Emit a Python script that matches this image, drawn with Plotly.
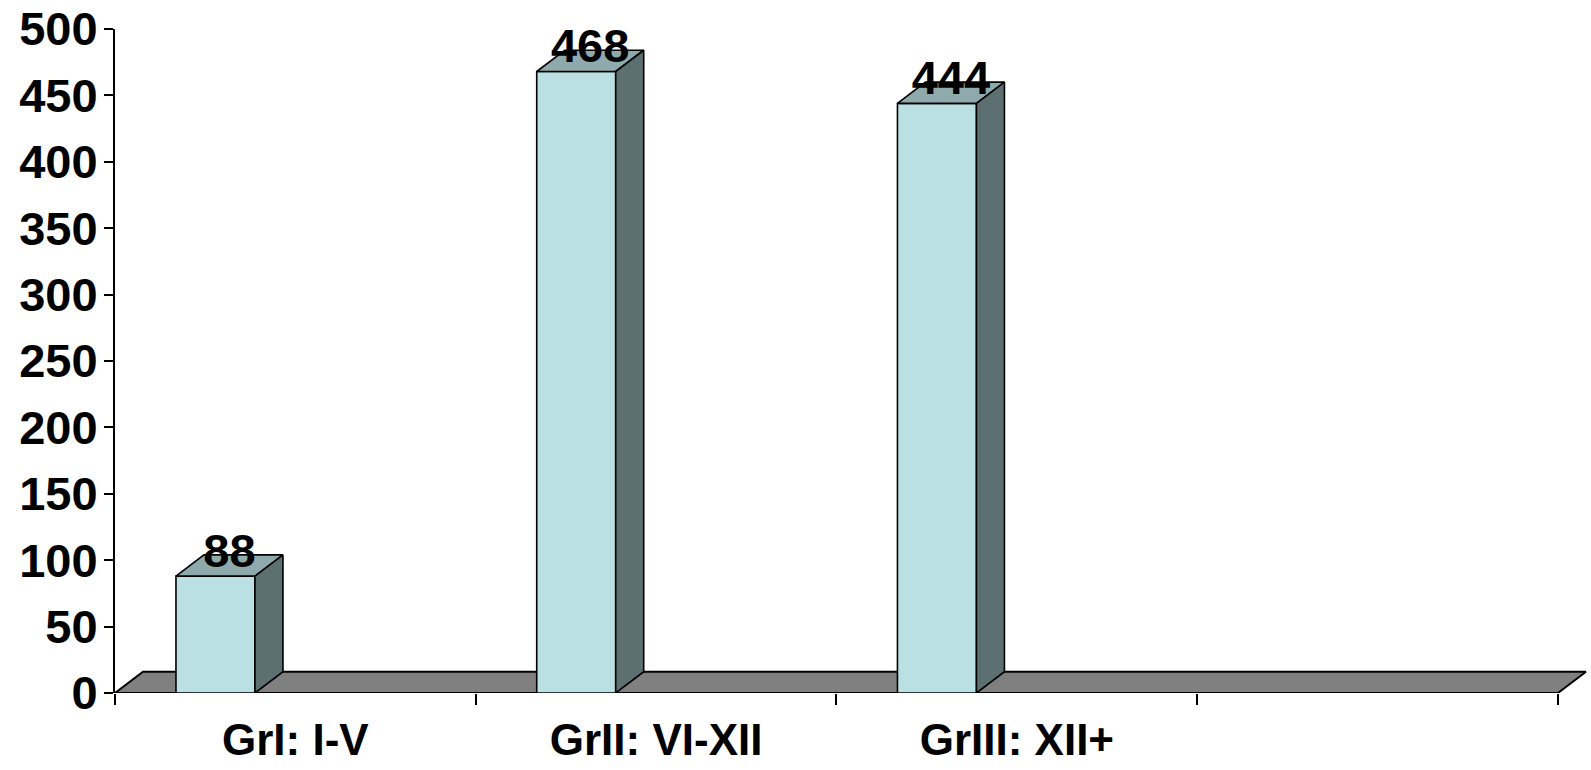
import plotly.graph_objects as go

# Chart data
categories = ["GrI: I-V", "GrII: VI-XII", "GrIII: XII+", ""]
values = [88, 468, 444]
y_ticks = [0, 50, 100, 150, 200, 250, 300, 350, 400, 450, 500]

# Styling for the pseudo-3D columns
FRONT = "#BBE0E3"
TOP = "#8FAAAD"
SIDE = "#5C6F71"
FLOOR = "#808080"
EDGE = dict(color="black", width=1.6)
DX = 0.0776      # depth offset along the category axis
DY = 16.0        # depth offset along the value axis
BAR_L, BAR_R = -0.331, -0.112   # front face extent relative to category centre
FONT = "Liberation Sans, Arial, sans-serif"

fig = go.Figure()

# Floor of the 3D plot
n = len(categories)
x0, x1 = -0.5, n - 0.5
fig.add_trace(go.Scatter(
    x=[x0, x1, x1 + DX, x0 + DX, x0], y=[0, 0, DY, DY, 0],
    fill="toself", fillcolor=FLOOR, mode="lines", line=dict(color="black", width=2),
    hoverinfo="skip", showlegend=False, xaxis="x", yaxis="y"))

# Columns: front, top and side faces
for i, v in enumerate(values):
    l, r = i + BAR_L, i + BAR_R
    faces = [
        ([l, r, r, l, l], [0, 0, v, v, 0], FRONT),
        ([l, r, r + DX, l + DX, l], [v, v, v + DY, v + DY, v], TOP),
        ([r, r + DX, r + DX, r, r], [0, DY, v + DY, v, 0], SIDE),
    ]
    for xs, ys, col in faces:
        fig.add_trace(go.Scatter(
            x=xs, y=ys, fill="toself", fillcolor=col, mode="lines", line=EDGE,
            hoverinfo="skip", showlegend=False))

# Value labels above each column
fig.add_trace(go.Scatter(
    x=[i + (BAR_L + BAR_R) / 2 + DX / 2 for i in range(len(values))],
    y=[v + DY for v in values],
    text=[str(v) for v in values], mode="text", textposition="middle center",
    textfont=dict(family=FONT, size=47, color="black", weight="bold"),
    cliponaxis=False, hoverinfo="skip", showlegend=False))

x_range = [-0.5, n - 0.5 + 0.086]

fig.update_layout(
    width=1591, height=770,
    margin=dict(l=115, r=2, t=29, b=77),
    plot_bgcolor="white", paper_bgcolor="white",
    showlegend=False,
    xaxis=dict(
        range=x_range, tickmode="array", automargin=False,
        tickvals=[k - 0.5 for k in range(n + 1)],
        ticks="outside", ticklen=11, tickwidth=2, tickcolor="black",
        showticklabels=False, showline=False, showgrid=False, zeroline=False),
    xaxis2=dict(
        range=x_range, overlaying="x", side="bottom", anchor="y", automargin=False,
        tickmode="array", tickvals=list(range(n)), ticktext=categories,
        ticks="", showline=False, showgrid=False, zeroline=False,
        ticklabelstandoff=17,
        tickfont=dict(family=FONT, size=44, color="black", weight="bold")),
    yaxis=dict(
        range=[0, 500], tickmode="array", tickvals=y_ticks, automargin=False,
        ticks="outside", ticklen=9, tickwidth=2, tickcolor="black",
        showline=True, linewidth=2, linecolor="black",
        showgrid=False, zeroline=False, ticklabelstandoff=-3,
        tickfont=dict(family=FONT, size=47, color="black", weight="bold")),
)

# Invisible trace so the label axis is rendered
fig.add_trace(go.Scatter(x=[0], y=[0], xaxis="x2", yaxis="y", mode="markers",
                         marker=dict(opacity=0), hoverinfo="skip", showlegend=False))

fig.write_html("out.html")
